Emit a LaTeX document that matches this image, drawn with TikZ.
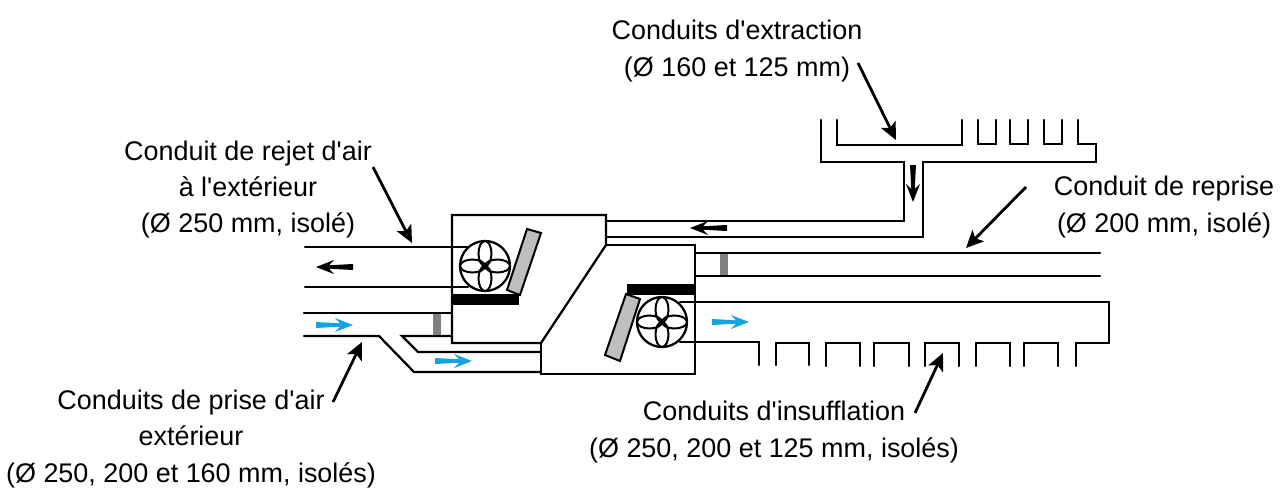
\documentclass[tikz,border=0pt]{standalone}
\usepackage{fontspec}
\newfontfamily\capfont{Liberation Sans}
\usetikzlibrary{arrows.meta}
\definecolor{flowblue}{RGB}{20,165,225}
\definecolor{filtergray}{RGB}{190,190,190}
\definecolor{dampergray}{RGB}{128,128,128}
\tikzset{
  duct/.style={line width=1.7pt, line cap=round, line join=miter},
  leader/.style={line width=2.1pt, -{Stealth[length=13pt,width=12pt,inset=3pt]}},
  caption/.style={align=center, inner sep=0pt, font=\capfont\fontsize{20.2}{27.2}\selectfont},
  filter/.style={draw=black, fill=filtergray, line width=1.5pt},
  damper/.style={fill=dampergray},
  flowarrow/.pic={\fill[pic actions] (0,-3) -- (24,-1.7) -- (19,-7) -- (37,0) -- (19,7) -- (24,1.7) -- (0,3) -- cycle;},
  fan/.pic={
    \draw[duct, fill=white] (0,0) circle [radius=25];
    \draw[line width=1.5pt] (12.5,0) ellipse [x radius=12.5, y radius=6.5];
    \draw[line width=1.5pt] (-12.5,0) ellipse [x radius=12.5, y radius=6.5];
    \draw[line width=1.5pt] (0,12.5) ellipse [x radius=6.5, y radius=12.5];
    \draw[line width=1.5pt] (0,-12.5) ellipse [x radius=6.5, y radius=12.5];
  }
}
\begin{document}
\begin{tikzpicture}[x=0.75pt, y=-0.75pt]
\useasboundingbox (0,0) rectangle (1282,496);
\node[caption] (extraction) at (737,51) {Conduits d'extraction\\(Ø 160 et 125 mm)};
\node[caption] (rejet) at (248,189.5) {Conduit de rejet d'air\\à l'extérieur\\(Ø 250 mm, isolé)};
\node[caption] (reprise) at (1164,207) {Conduit de reprise\\(Ø 200 mm, isolé)};
\node[caption] (insufflation) at (774,432) {Conduits d'insufflation\\(Ø 250, 200 et 125 mm, isolés)};
\node[caption] (prise) at (191,439) {Conduits de prise d'air\\extérieur\\(Ø 250, 200 et 160 mm, isolés)};
\draw[duct] (452,215) -- (606,215) -- (606,245) -- (541,343) -- (452,343) -- cycle;
\draw[duct] (606,245) -- (695,245) -- (695,374) -- (541,374) -- (541,343);
\draw[duct] (305,247) -- (468,247);
\draw[duct] (305,287) -- (468,287);
\draw[duct] (304,313) -- (452,313);
\draw[duct] (304,336) -- (379,336) -- (414,372) -- (541,372);
\draw[duct] (452,336) -- (402,336) -- (418,352) -- (541,352);
\draw[duct] (606,221) -- (904,221) -- (904,162) -- (821,162) -- (821,120);
\draw[duct] (606,237) -- (923,237) -- (923,162) -- (1096,162) -- (1096,144) -- (1078,144) -- (1078,120);
\draw[duct] (837,120) -- (837,145) -- (962,145) -- (962,120);
\draw[duct] (978,120) -- (978,144) -- (996,144) -- (996,120);
\draw[duct] (1010,120) -- (1010,144) -- (1028,144) -- (1028,120);
\draw[duct] (1044,120) -- (1044,144) -- (1062,144) -- (1062,120);
\draw[duct] (695,253) -- (1100,253);
\draw[duct] (695,276) -- (1100,276);
\draw[duct] (680,302) -- (1109,302) -- (1109,343) -- (1076,343) -- (1076,366);
\draw[duct] (680,342) -- (759,342) -- (759,365);
\draw[duct] (776,365) -- (776,343) -- (809,343) -- (809,365);
\draw[duct] (826,366) -- (826,343) -- (860,343) -- (860,366);
\draw[duct] (874,366) -- (874,343) -- (909,343) -- (909,366);
\draw[duct] (925,366) -- (925,343) -- (959,343) -- (959,366);
\draw[duct] (976,366) -- (976,343) -- (1010,343) -- (1010,366);
\draw[duct] (1024,366) -- (1024,343) -- (1058,343) -- (1058,366);
\fill (452,294) rectangle (519,305);
\fill (627,284) rectangle (695,295);
\fill[damper] (433,314) rectangle (441,335);
\fill[damper] (720,254) rectangle (728,275);
\draw[filter] (527,229) -- (541,233) -- (520,295) -- (507,290) -- cycle;
\draw[filter] (626,294) -- (640,299) -- (620,361) -- (605,355) -- cycle;
\pic at (485,266) {fan};
\pic at (662,322) {fan};
\pic[fill=black, rotate=180] at (353,267) {flowarrow};
\pic[fill=black, rotate=180] at (727,228) {flowarrow};
\pic[fill=black, rotate=-90] at (913,165) {flowarrow};
\pic[fill=flowblue] at (316,325) {flowarrow};
\pic[fill=flowblue] at (435,361) {flowarrow};
\pic[fill=flowblue] at (712,322) {flowarrow};
\coordinate (extractionfrom) at (858,63);
\coordinate (extractionto) at (896,140);
\coordinate (rejetfrom) at (373,167);
\coordinate (rejetto) at (412,243);
\coordinate (reprisefrom) at (1026,187);
\coordinate (repriseto) at (966,248);
\coordinate (insufflationfrom) at (915,413);
\coordinate (insufflationto) at (943,353);
\coordinate (prisefrom) at (333,402);
\coordinate (priseto) at (362,342);
\draw[leader] (extractionfrom) -- (extractionto);
\draw[leader] (rejetfrom) -- (rejetto);
\draw[leader] (reprisefrom) -- (repriseto);
\draw[leader] (insufflationfrom) -- (insufflationto);
\draw[leader] (prisefrom) -- (priseto);
\end{tikzpicture}
\end{document}
